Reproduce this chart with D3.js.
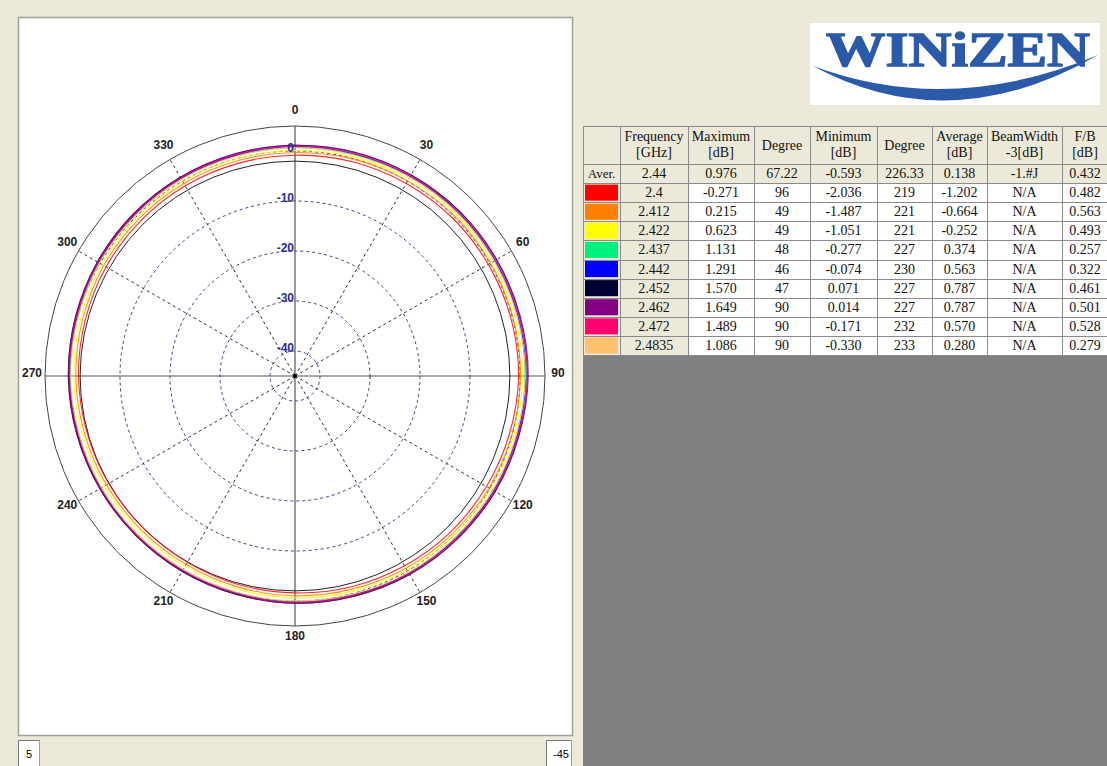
<!DOCTYPE html>
<html lang="en">
<head>
<meta charset="UTF-8">
<script src="https://d3js.org/d3.v7.min.js"></script>
<title>Radiation Pattern</title>
<style>
  body { margin: 0; background: #ece9d8; }
  svg { display: block; }
</style>
</head>
<body>
<svg id="chart" width="1107" height="766"></svg>
<script>
// ---- data ----
const freqs = [2.4, 2.412, 2.422, 2.437, 2.442, 2.452, 2.462, 2.472, 2.4835];
const colors = ["#ff0000", "#ff8000", "#ffff00", "#00f080", "#0000ff", "#000033", "#800080", "#ff0070", "#ffc070"];
const maxDb = [-0.271, 0.215, 0.623, 1.131, 1.291, 1.570, 1.649, 1.489, 1.086];
const maxDeg = [96, 49, 49, 48, 46, 47, 90, 90, 90];
const minDb = [-2.036, -1.487, -1.051, -0.277, -0.074, 0.071, 0.014, -0.171, -0.330];
const minDeg = [219, 221, 221, 227, 230, 227, 227, 232, 233];
const avgDb = [-1.202, -0.664, -0.252, 0.374, 0.563, 0.787, 0.787, 0.570, 0.280];
const beamWidth = ["N/A", "N/A", "N/A", "N/A", "N/A", "N/A", "N/A", "N/A", "N/A"];
const fbDb = [0.482, 0.563, 0.493, 0.257, 0.322, 0.461, 0.501, 0.528, 0.279];
const averRow = ["2.44", "0.976", "67.22", "-0.593", "226.33", "0.138", "-1.#J", "0.432"];
const headers = [[""], ["Frequency", "[GHz]"], ["Maximum", "[dB]"], ["Degree"], ["Minimum", "[dB]"],
                 ["Degree"], ["Average", "[dB]"], ["BeamWidth", "-3[dB]"], ["F/B", "[dB]"]];

// pattern samples, every 15 degrees starting at 0 (top), clockwise
const angles = [0, 15, 30, 45, 60, 75, 90, 105, 120, 135, 150, 165, 180, 195, 210, 225, 240, 255, 270, 285, 300, 315, 330, 345];
const gain2400  = [-0.84, -0.63, -0.52, -0.38, -0.35, -0.30, -0.29, -0.57, -0.78, -0.94, -1.19, -1.37, -1.62, -1.78, -1.99, -2.03, -1.98, -1.90, -1.71, -1.58, -1.36, -1.24, -1.08, -0.97];
const gain2412  = [-0.30, -0.09, 0.06, 0.21, 0.17, 0.14, 0.10, -0.07, -0.20, -0.44, -0.61, -0.87, -1.03, -1.28, -1.45, -1.49, -1.44, -1.36, -1.17, -1.04, -0.83, -0.70, -0.54, -0.44];
const gain2422  = [0.11, 0.32, 0.47, 0.62, 0.58, 0.55, 0.52, 0.34, 0.21, -0.03, -0.20, -0.46, -0.62, -0.87, -1.04, -1.05, -1.02, -0.94, -0.75, -0.62, -0.41, -0.28, -0.12, -0.02];
const gain2437  = [0.71, 0.81, 0.96, 1.13, 1.05, 1.03, 1.01, 0.85, 0.75, 0.55, 0.42, 0.20, 0.07, -0.14, -0.24, -0.27, -0.28, -0.21, -0.04, 0.06, 0.24, 0.34, 0.47, 0.55];
const gain2442  = [0.89, 0.98, 1.14, 1.29, 1.22, 1.20, 1.18, 1.03, 0.93, 0.73, 0.61, 0.39, 0.27, 0.06, -0.03, -0.06, -0.07, 0.00, 0.16, 0.25, 0.43, 0.53, 0.66, 0.73];
const gain2452  = [1.15, 1.26, 1.43, 1.57, 1.52, 1.50, 1.47, 1.31, 1.20, 0.98, 0.84, 0.60, 0.46, 0.24, 0.13, 0.07, 0.09, 0.17, 0.34, 0.45, 0.64, 0.75, 0.90, 0.98];
const gain2462  = [1.14, 1.34, 1.44, 1.54, 1.59, 1.61, 1.65, 1.36, 1.24, 1.00, 0.84, 0.59, 0.43, 0.20, 0.07, 0.01, 0.03, 0.15, 0.26, 0.47, 0.59, 0.79, 0.87, 1.04];
const gain2472  = [0.96, 1.08, 1.26, 1.32, 1.41, 1.39, 1.49, 1.14, 1.02, 0.78, 0.62, 0.37, 0.21, -0.02, -0.15, -0.17, -0.16, -0.11, 0.08, 0.21, 0.41, 0.53, 0.69, 0.78];
const gain24835 = [0.62, 0.72, 0.88, 0.93, 1.01, 0.99, 1.09, 0.77, 0.67, 0.46, 0.33, 0.10, -0.03, -0.24, -0.31, -0.33, -0.32, -0.27, -0.14, -0.04, 0.14, 0.25, 0.39, 0.46];
const gainSeries = [gain2400, gain2412, gain2422, gain2437, gain2442, gain2452, gain2462, gain2472, gain24835];

const dbRange = [-45, 5];
const gridDb = [0, -10, -20, -30, -40];
const spokeAngles = [30, 60, 120, 150, 210, 240, 300, 330];
const angleLabels = [0, 30, 60, 90, 120, 150, 180, 210, 240, 270, 300, 330];
const beamRefDb = -2.024;   // max average - 3 dB

const svg = d3.select("#chart");

// ---- left panel ----
svg.append("rect")
   .attr("x", 18.5).attr("y", 17.5).attr("width", 554).attr("height", 718)
   .attr("fill", "#ffffff").attr("stroke", "#a09f98").attr("stroke-width", 1.5);

const cx = 295, cy = 376;
const r = d3.scaleLinear().domain(dbRange).range([0, 250]);
const polar = svg.append("g").attr("transform", `translate(${cx},${cy})`);
const rad = a => a * Math.PI / 180;

// grid circles
polar.selectAll(".grid")
     .data(gridDb)
     .enter().append("circle")
     .attr("r", d => r(d))
     .attr("fill", "none")
     .attr("stroke", "#3c3c8c")
     .attr("stroke-width", 1)
     .attr("stroke-dasharray", "3,3");

// dashed spokes
polar.selectAll(".spoke")
     .data(spokeAngles)
     .enter().append("line")
     .attr("x1", 0).attr("y1", 0)
     .attr("x2", d => r(dbRange[1]) * Math.sin(rad(d)))
     .attr("y2", d => -r(dbRange[1]) * Math.cos(rad(d)))
     .attr("stroke", "#333")
     .attr("stroke-width", 1)
     .attr("stroke-dasharray", "3,3");

// outer circle
polar.append("circle")
     .attr("r", r(dbRange[1]))
     .attr("fill", "none")
     .attr("stroke", "#444")
     .attr("stroke-width", 1);

// main axes
polar.append("line")
     .attr("x1", -r(dbRange[1])).attr("x2", r(dbRange[1])).attr("y1", 0).attr("y2", 0)
     .attr("stroke", "#555").attr("stroke-width", 1.2);
polar.append("line")
     .attr("y1", -r(dbRange[1])).attr("y2", r(dbRange[1])).attr("x1", 0).attr("x2", 0)
     .attr("stroke", "#555").attr("stroke-width", 1.2);

// -3 dB reference circle
polar.append("circle")
     .attr("r", r(beamRefDb))
     .attr("fill", "none")
     .attr("stroke", "#222")
     .attr("stroke-width", 1);

// pattern curves
const line = d3.lineRadial()
               .angle(d => rad(d.a))
               .radius(d => r(d.v))
               .curve(d3.curveCardinalClosed);

polar.selectAll(".curve")
     .data(gainSeries)
     .enter().append("path")
     .attr("d", s => line(s.map((v, i) => ({ a: angles[i], v: v }))))
     .attr("fill", "none")
     .attr("stroke", (s, i) => colors[i])
     .attr("stroke-width", 1.1)
     .attr("stroke-opacity", 0.85);

// centre dot
polar.append("circle").attr("r", 2).attr("fill", "#000");

// angle labels
polar.selectAll(".alabel")
     .data(angleLabels)
     .enter().append("text")
     .attr("x", d => 263 * Math.sin(rad(d)))
     .attr("y", d => -263 * Math.cos(rad(d)) + 1)
     .attr("text-anchor", "middle")
     .attr("font-family", "Liberation Sans, Arial, sans-serif")
     .attr("font-weight", "bold")
     .attr("font-size", "12px")
     .attr("fill", "#222")
     .text(d => d);

// dB labels
polar.selectAll(".rlabel")
     .data(gridDb)
     .enter().append("text")
     .attr("x", -1)
     .attr("y", d => -r(d) + 1)
     .attr("text-anchor", "end")
     .attr("font-family", "Liberation Sans, Arial, sans-serif")
     .attr("font-weight", "bold")
     .attr("font-size", "12px")
     .attr("fill", "#2a2aa0")
     .text(d => d);

// range boxes under the chart
const boxes = [
  { x: 18, w: 21, label: String(dbRange[1]), anchor: "start", tx: 26 },
  { x: 546, w: 25, label: String(dbRange[0]), anchor: "end", tx: 569 }
];
boxes.forEach(b => {
  svg.append("rect").attr("x", b.x + 0.5).attr("y", 740.5).attr("width", b.w).attr("height", 26)
     .attr("fill", "#fff").attr("stroke", "#a09f98");
  svg.append("path")
     .attr("d", `M${b.x + 0.5},766 V740.5 H${b.x + b.w + 0.5}`)
     .attr("fill", "none").attr("stroke", "#777");
  svg.append("text").attr("x", b.tx).attr("y", 758)
     .attr("text-anchor", b.anchor)
     .attr("font-family", "Liberation Sans, Arial, sans-serif")
     .attr("font-size", "11px").attr("fill", "#000")
     .text(b.label);
});

// ---- right side ----
svg.append("rect").attr("x", 583).attr("y", 355).attr("width", 524).attr("height", 411).attr("fill", "#808080");

// logo
svg.append("rect").attr("x", 810).attr("y", 23).attr("width", 290).attr("height", 82).attr("fill", "#ffffff");
svg.append("text")
   .attr("x", 826).attr("y", 66)
   .attr("textLength", 264).attr("lengthAdjust", "spacingAndGlyphs")
   .attr("font-family", "Liberation Serif, Times New Roman, serif")
   .attr("font-weight", "bold")
   .attr("font-size", "49px")
   .attr("fill", "#2a5aa8")
   .attr("stroke", "#2a5aa8")
   .attr("stroke-width", 1.4)
   .text("WINiZEN");
svg.append("path")
   .attr("d", "M813,66 Q950,140 1098,55 Q950,117 813,66 Z")
   .attr("fill", "#2a5aa8");

// table
const colX = [583, 620, 688, 754, 810, 877, 932, 987, 1062, 1108];
const headTop = 126, headBottom = 164, rowH = 19.1;
const rowY = i => headBottom + i * rowH;
const nRows = freqs.length + 1;
const table = svg.append("g");
const fmt3 = v => v.toFixed(3);

const bodyRows = [averRow].concat(freqs.map((f, i) => [
  String(f), fmt3(maxDb[i]), String(maxDeg[i]), fmt3(minDb[i]), String(minDeg[i]),
  fmt3(avgDb[i]), beamWidth[i], fmt3(fbDb[i])
]));

// backgrounds
table.append("rect").attr("x", colX[0]).attr("y", headTop)
     .attr("width", colX[9] - colX[0]).attr("height", rowY(nRows) - headTop).attr("fill", "#ffffff");
table.append("rect").attr("x", colX[0]).attr("y", headTop)
     .attr("width", colX[9] - colX[0]).attr("height", rowY(1) - headTop).attr("fill", "#ece9d8");
table.append("rect").attr("x", colX[0]).attr("y", headTop)
     .attr("width", colX[2] - colX[0]).attr("height", rowY(nRows) - headTop).attr("fill", "#ece9d8");

// swatches
table.selectAll(".swatch")
     .data(colors)
     .enter().append("rect")
     .attr("x", colX[0] + 2).attr("y", (c, i) => rowY(i + 1) + 1.5)
     .attr("width", colX[1] - colX[0] - 4).attr("height", rowH - 3)
     .attr("fill", c => c);

// grid lines
table.selectAll(".vl")
     .data(colX)
     .enter().append("line")
     .attr("x1", d => d + 0.5).attr("x2", d => d + 0.5)
     .attr("y1", headTop).attr("y2", rowY(nRows))
     .attr("stroke", "#8a8a8a");
table.selectAll(".hl")
     .data([headTop].concat(d3.range(nRows + 1).map(rowY)))
     .enter().append("line")
     .attr("x1", colX[0]).attr("x2", colX[9])
     .attr("y1", d => Math.round(d) + 0.5).attr("y2", d => Math.round(d) + 0.5)
     .attr("stroke", "#8a8a8a");

// header text
headers.forEach((h, c) => {
  const mid = (colX[c] + colX[c + 1]) / 2;
  h.forEach((t, k) => {
    table.append("text")
         .attr("x", mid)
         .attr("y", h.length === 1 ? 150 : 141 + k * 16)
         .attr("text-anchor", "middle")
         .attr("font-family", "Liberation Serif, Times New Roman, serif")
         .attr("font-size", "14px")
         .attr("fill", "#111")
         .text(t);
  });
});

// "Aver." label
table.append("text").attr("x", (colX[0] + colX[1]) / 2).attr("y", rowY(0) + 14)
     .attr("text-anchor", "middle")
     .attr("font-family", "Liberation Serif, Times New Roman, serif")
     .attr("font-size", "13px").attr("fill", "#111").text("Aver.");

// body text
bodyRows.forEach((row, ri) => {
  row.forEach((t, ci) => {
    table.append("text")
         .attr("x", (colX[ci + 1] + colX[ci + 2]) / 2)
         .attr("y", rowY(ri) + 14)
         .attr("text-anchor", "middle")
         .attr("font-family", "Liberation Serif, Times New Roman, serif")
         .attr("font-size", "14px")
         .attr("fill", "#111")
         .text(t);
  });
});
</script>
</body>
</html>
